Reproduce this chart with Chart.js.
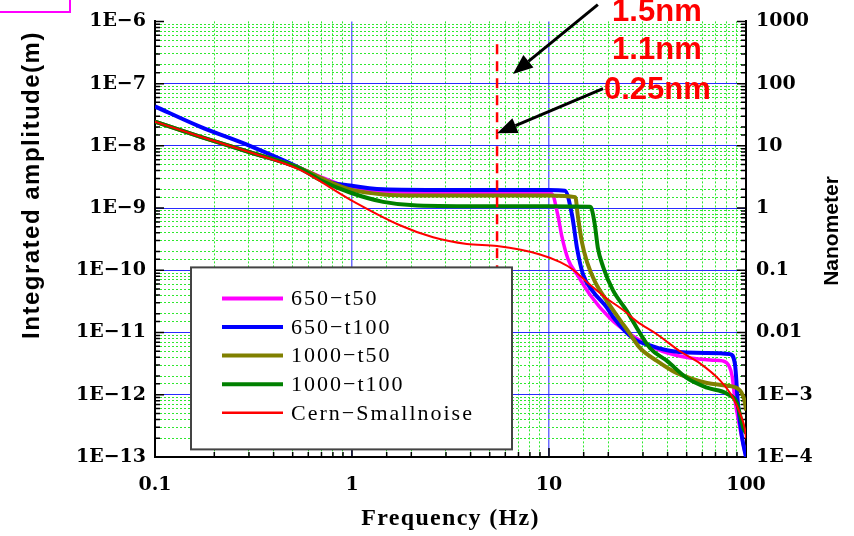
<!DOCTYPE html>
<html>
<head>
<meta charset="utf-8">
<script src="https://cdn.jsdelivr.net/npm/chart.js@4.4.1/dist/chart.umd.min.js"></script>
<style>
  body { margin: 0; background: #fff; }
  canvas { display: block; }
</style>
</head>
<body>
<canvas id="amplitude" width="854" height="536"></canvas>
<script>
var seriesNames = ["650−t50", "650−t100", "1000−t50", "1000−t100", "Cern−Smallnoise"];
var seriesColors = ["#ff00ff", "#0000ff", "#808000", "#008000", "#ff0000"];

// frequency (Hz) / integrated amplitude (m)
var freq650t50 = [0.1, 0.169, 0.303, 0.545, 0.746, 0.977, 1.44, 2.14, 5, 10.3, 11.1, 11.6, 12.5, 13.9, 16.1, 20.4, 25.8, 31.4, 39.7, 52, 68, 76, 82, 85, 88, 93, 100];
var amp650t50 = [2.45e-8, 1.41e-8, 7.9e-9, 4.4e-9, 2.9e-9, 2.15e-9, 1.85e-9, 1.8e-9, 1.8e-9, 1.72e-9, 7.6e-10, 3.6e-10, 1.5e-10, 8.5e-11, 4.1e-11, 1.7e-11, 9.4e-12, 6.5e-12, 4.7e-12, 3.9e-12, 3.6e-12, 3.5e-12, 2.9e-12, 2.0e-12, 8e-13, 3e-13, 1e-13];

var freq650t100 = [0.1, 0.169, 0.303, 0.545, 0.713, 0.977, 1.44, 3, 6, 10, 12.05, 13.1, 13.9, 14.9, 16.7, 19.7, 21.1, 26.7, 33.7, 42.6, 63.4, 83, 87.9, 91, 95.4, 100];
var amp650t100 = [4.3e-8, 2.04e-8, 1.0e-8, 4.4e-9, 2.8e-9, 2.3e-9, 2.0e-9, 1.95e-9, 1.95e-9, 1.95e-9, 1.9e-9, 7.6e-10, 2.2e-10, 8.5e-11, 4.6e-11, 2.5e-11, 1.8e-11, 8.1e-12, 6.0e-12, 5.0e-12, 4.7e-12, 4.5e-12, 3.1e-12, 7.3e-13, 2.1e-13, 1.0e-13];

var freq1000t50 = [0.1, 0.169, 0.303, 0.545, 0.746, 0.977, 1.44, 2.14, 5, 10, 13.6, 14.0, 14.7, 15.6, 17.1, 19.7, 22.9, 25.5, 29, 35.3, 42.6, 52, 63.4, 80.1, 93.3, 98.9, 100];
var amp1000t50 = [2.45e-8, 1.41e-8, 7.9e-9, 4.4e-9, 2.75e-9, 2.0e-9, 1.66e-9, 1.6e-9, 1.6e-9, 1.6e-9, 1.5e-9, 7.6e-10, 2.8e-10, 1.35e-10, 6.6e-11, 3.2e-11, 1.6e-11, 1.0e-11, 5.6e-12, 3.5e-12, 2.4e-12, 1.85e-12, 1.55e-12, 1.4e-12, 1.17e-12, 7.3e-13, 5.6e-13];

var freq1000t100 = [0.1, 0.169, 0.303, 0.545, 0.7, 0.977, 1.44, 2.14, 5, 10, 16.1, 16.5, 17.1, 17.7, 18.8, 21.1, 24.9, 26.7, 32.6, 39.7, 50.2, 63.4, 80.1, 90, 96.6, 100];
var amp1000t100 = [2.45e-8, 1.41e-8, 7.9e-9, 4.3e-9, 2.75e-9, 1.78e-9, 1.26e-9, 1.1e-9, 1.07e-9, 1.07e-9, 1.05e-9, 9.5e-10, 5.3e-10, 2.3e-10, 1.15e-10, 4.8e-11, 2.2e-11, 1.5e-11, 5.6e-12, 3.5e-12, 1.85e-12, 1.3e-12, 1.04e-12, 7.3e-13, 3.0e-13, 2.4e-13];

var freqCern = [0.1, 0.169, 0.303, 0.545, 0.977, 1.75, 2.58, 3.83, 5.45, 9.0, 11.4, 13.2, 16.1, 19.7, 23.8, 28, 35.3, 46.2, 58.4, 73.8, 86, 93.3, 98.9, 100];
var ampCern = [2.45e-8, 1.41e-8, 7.9e-9, 4.1e-9, 1.37e-9, 5.3e-10, 3.4e-10, 2.65e-10, 2.45e-10, 1.8e-10, 1.35e-10, 1.03e-10, 5.9e-11, 3.5e-11, 2.3e-11, 1.5e-11, 9.4e-12, 5.0e-12, 3.2e-12, 1.7e-12, 8.9e-13, 5.0e-13, 2.7e-13, 2.0e-13];

// marker at the cut-off frequency
var cutFreq = [5.45, 5.45];
var cutAmp = [4.3e-7, 1.02e-10];

var freqLabels = ["0.1", "1", "10", "100"];
var nmLabels = ["1E−4", "1E−3", "0.01", "0.1", "1", "10", "100", "1000"];

// annotation texts and arrows, in (Hz, m)
var noteTexts = ["1.5nm", "1.1nm", "0.25nm"];
var noteFreq = [35.3, 35.3, 35.5];
var noteAmp = [1e-6, 2.48e-7, 5.74e-8];
var arrows = [
  { from: [17.7, 1.86e-6], to: [6.56, 1.43e-7] },
  { from: [18.8, 8.28e-8], to: [5.45, 1.59e-8] }
];

function pts(xs, ys) {
  return xs.map(function(x, i) { return { x: x, y: ys[i] }; });
}
function isDecade(v) {
  var l = Math.log10(v);
  return Math.abs(l - Math.round(l)) < 1e-6;
}
function decade(v) { return Math.round(Math.log10(v)); }

var seriesData = [
  pts(freq650t50, amp650t50),
  pts(freq650t100, amp650t100),
  pts(freq1000t50, amp1000t50),
  pts(freq1000t100, amp1000t100),
  pts(freqCern, ampCern)
];
var drawOrder = [5, 4, 3, 2, 1];
var widths = [3.5, 4, 4, 4, 2];

var datasets = seriesData.map(function(d, i) {
  return {
    label: seriesNames[i],
    data: d,
    borderColor: seriesColors[i],
    borderWidth: widths[i],
    pointRadius: 0,
    fill: false,
    cubicInterpolationMode: 'monotone',
    order: drawOrder[i]
  };
});
datasets.push({
  label: 'cut',
  data: pts(cutFreq, cutAmp),
  borderColor: '#ff0000',
  borderWidth: 2.5,
  borderDash: [10, 7],
  pointRadius: 0,
  order: 0
});

var GREEN = '#2ee82e';
function gridColor(major, minor, lo, hi) {
  return function(c) {
    if (!c.tick) return 'transparent';
    var v = c.tick.value;
    if (Math.abs(Math.log10(v) - Math.log10(lo)) < 1e-6 || Math.abs(Math.log10(v) - Math.log10(hi)) < 1e-6) return 'transparent';
    return isDecade(v) ? major : minor;
  };
}
function gridDash(c) {
  return (c.tick && !isDecade(c.tick.value)) ? [2, 2] : [];
}
var tickFont = { family: 'DejaVu Serif', weight: 'bold', size: 19 };

var innerTicks = {
  id: 'innerTicks',
  beforeDatasetsDraw: function(chart) {
    var c = chart.ctx, a = chart.chartArea, sy = chart.scales.y, sx = chart.scales.x;
    c.save();
    c.strokeStyle = '#000';
    c.lineWidth = 1.5;
    c.beginPath();
    sy.ticks.forEach(function(t) {
      var y = sy.getPixelForValue(t.value), len = isDecade(t.value) ? 9 : 5;
      c.moveTo(a.left, y); c.lineTo(a.left + len, y);
      c.moveTo(a.right, y); c.lineTo(a.right - len, y);
    });
    sx.ticks.forEach(function(t) {
      var x = sx.getPixelForValue(t.value), len = isDecade(t.value) ? 9 : 5;
      c.moveTo(x, a.bottom); c.lineTo(x, a.bottom - len);
    });
    c.stroke();
    c.restore();
  }
};

var legendBox = {
  id: 'legendBox',
  afterDatasetsDraw: function(chart) {
    var c = chart.ctx, a = chart.chartArea;
    var bx = a.left + 36, by = a.top + 246, bw = 321, bh = 182;
    c.save();
    c.fillStyle = '#fff';
    c.fillRect(bx, by, bw, bh);
    c.strokeStyle = '#444';
    c.lineWidth = 2;
    c.strokeRect(bx, by, bw, bh);
    c.font = '22px "Liberation Serif"';
    c.letterSpacing = '2px';
    c.textBaseline = 'middle';
    c.fillStyle = '#000';
    for (var i = 0; i < seriesNames.length; i++) {
      var y = by + 31 + i * 28.6;
      c.strokeStyle = seriesColors[i];
      c.lineWidth = i === 4 ? 2.5 : 4;
      c.beginPath(); c.moveTo(bx + 31, y); c.lineTo(bx + 92, y); c.stroke();
      c.fillText(seriesNames[i], bx + 100, y + 1);
    }
    c.restore();
  }
};

function drawArrow(c, x0, y0, x1, y1) {
  var ang = Math.atan2(y1 - y0, x1 - x0), head = 20, half = 8;
  var bx = x1 - head * Math.cos(ang), by = y1 - head * Math.sin(ang);
  c.beginPath(); c.moveTo(x0, y0); c.lineTo(bx, by); c.stroke();
  c.beginPath();
  c.moveTo(x1, y1);
  c.lineTo(bx + half * Math.sin(ang), by - half * Math.cos(ang));
  c.lineTo(bx - half * Math.sin(ang), by + half * Math.cos(ang));
  c.closePath(); c.fill();
}

var decorations = {
  id: 'decorations',
  afterDraw: function(chart) {
    var c = chart.ctx, sx = chart.scales.x, sy = chart.scales.y, a = chart.chartArea;
    c.save();
    // axis titles
    c.fillStyle = '#000';
    c.textAlign = 'center';
    c.textBaseline = 'middle';
    c.font = 'bold 24px "Liberation Sans"';
    c.letterSpacing = '1.5px';
    c.save(); c.translate(32, 185); c.rotate(-Math.PI / 2); c.fillText('Integrated amplitude(m)', 0, 0); c.restore();
    c.font = 'bold 21px "Liberation Sans"';
    c.letterSpacing = '0px';
    c.save(); c.translate(832, 231); c.rotate(-Math.PI / 2); c.fillText('Nanometer', 0, 0); c.restore();
    c.font = 'bold 24px "Liberation Serif"';
    c.letterSpacing = '1.3px';
    c.fillText('Frequency (Hz)', (a.left + a.right) / 2, 519);
    c.letterSpacing = '0px';

    // arrows
    c.strokeStyle = '#000';
    c.fillStyle = '#000';
    c.lineWidth = 3;
    arrows.forEach(function(ar) {
      drawArrow(c, sx.getPixelForValue(ar.from[0]), sy.getPixelForValue(ar.from[1]),
                   sx.getPixelForValue(ar.to[0]), sy.getPixelForValue(ar.to[1]));
    });
    // red notes
    c.fillStyle = '#ff0000';
    c.font = 'bold 31px "Liberation Sans"';
    c.textBaseline = 'alphabetic';
    noteTexts.forEach(function(t, i) {
      c.fillText(t, sx.getPixelForValue(noteFreq[i]), sy.getPixelForValue(noteAmp[i]));
    });
    // clipped magenta frame in the corner
    c.strokeStyle = '#ff00ff';
    c.lineWidth = 2;
    c.beginPath(); c.moveTo(0, 12); c.lineTo(70, 12); c.lineTo(70, 0); c.stroke();
    c.restore();
  }
};

new Chart(document.getElementById('amplitude'), {
  type: 'line',
  data: { datasets: datasets },
  options: {
    responsive: false,
    animation: false,
    devicePixelRatio: 1,
    layout: { padding: { top: 17, left: 0, right: 0, bottom: 0 } },
    plugins: { legend: { display: false }, tooltip: { enabled: false } },
    scales: {
      x: {
        type: 'logarithmic',
        min: 0.1, max: 100,
        grid: {
          color: gridColor('rgba(70,70,255,0.8)', GREEN, 0.1, 100),
          lineWidth: function(c) { return c.tick && isDecade(c.tick.value) ? 1.5 : 1; },
          drawTicks: false
        },
        border: { color: '#000', width: 2, dash: gridDash },
        ticks: {
          autoSkip: false, maxRotation: 0, padding: 17, color: '#000', font: tickFont,
          callback: function(v) { return isDecade(v) ? freqLabels[decade(v) + 1] : ''; }
        },
        afterFit: function(s) { s.height = 79; }
      },
      y: {
        type: 'logarithmic',
        position: 'left',
        min: 1e-13, max: 1e-6,
        grid: {
          color: gridColor('#2a2aff', GREEN, 1e-13, 1e-6),
          lineWidth: 1,
          drawTicks: false
        },
        border: { color: '#000', width: 2, dash: gridDash },
        ticks: {
          autoSkip: false, padding: 9, color: '#000', font: tickFont,
          callback: function(v) { return isDecade(v) ? '1E−' + (-decade(v)) : ''; }
        },
        afterFit: function(s) { s.width = 155; }
      },
      y2: {
        type: 'logarithmic',
        position: 'right',
        min: 1e-4, max: 1000,
        grid: { drawOnChartArea: false, drawTicks: false },
        border: { color: '#000', width: 2 },
        ticks: {
          autoSkip: false, padding: 10, color: '#000', font: tickFont,
          callback: function(v) { return isDecade(v) ? nmLabels[decade(v) + 4] : ''; }
        },
        afterFit: function(s) { s.width = 108; }
      }
    }
  },
  plugins: [innerTicks, legendBox, decorations]
});
</script>
</body>
</html>
